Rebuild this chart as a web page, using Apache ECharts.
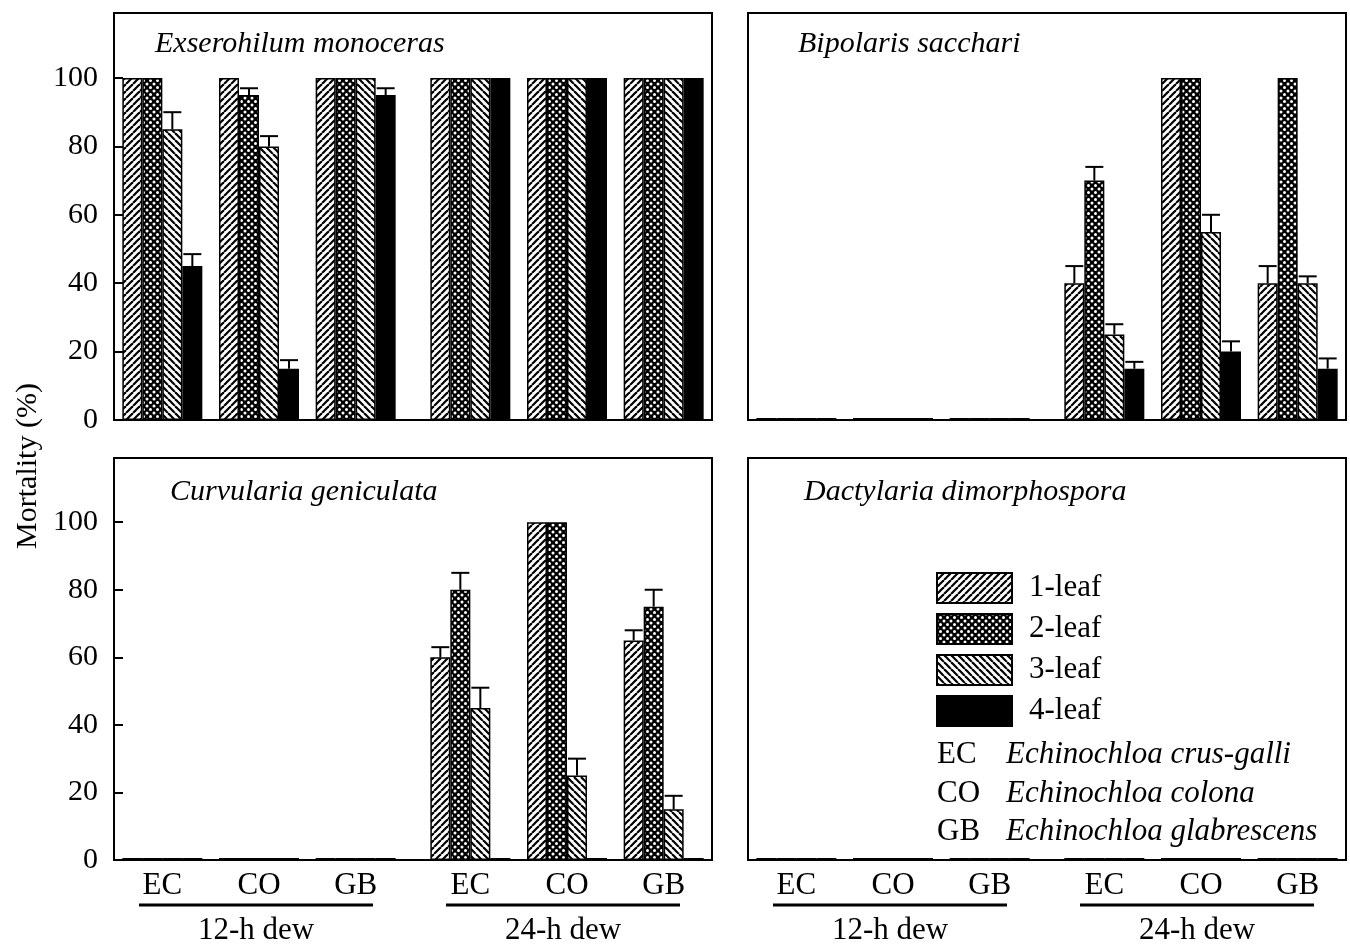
<!DOCTYPE html>
<html>
<head>
<meta charset="utf-8">
<script src="https://cdn.jsdelivr.net/npm/echarts@6/dist/echarts.min.js"></script>
<style>
  html, body { margin: 0; padding: 0; background: #fff; }
  #chart { width: 1350px; height: 945px; }
</style>
</head>
<body>
<div id="chart"></div>
<script>
const groups = ['EC', 'CO', 'GB'];
const dews = ['12-h dew', '24-h dew'];
const leaves = ['1-leaf', '2-leaf', '3-leaf', '4-leaf'];
const fungi = ['Exserohilum monoceras', 'Bipolaris sacchari', 'Curvularia geniculata', 'Dactylaria dimorphospora'];
const hosts = ['Echinochloa crus-galli', 'Echinochloa colona', 'Echinochloa glabrescens'];
const yTicks = [0, 20, 40, 60, 80, 100];

// mortality (%) : one row per leaf stage, columns = EC, CO, GB
const exser12 = [[100, 100, 100], [100, 95, 100], [85, 80, 100], [45, 15, 95]];
const exser12Err = [[0, 0, 0], [0, 2, 0], [5, 3, 0], [3.5, 2.5, 2]];
const exser24 = [[100, 100, 100], [100, 100, 100], [100, 100, 100], [100, 100, 100]];
const exser24Err = [[0, 0, 0], [0, 0, 0], [0, 0, 0], [0, 0, 0]];

const bipol12 = [[0, 0, 0], [0, 0, 0], [0, 0, 0], [0, 0, 0]];
const bipol12Err = [[0, 0, 0], [0, 0, 0], [0, 0, 0], [0, 0, 0]];
const bipol24 = [[40, 100, 40], [70, 100, 100], [25, 55, 40], [15, 20, 15]];
const bipol24Err = [[5, 0, 5], [4, 0, 0], [3, 5, 2], [2, 3, 3]];

const curvu12 = [[0, 0, 0], [0, 0, 0], [0, 0, 0], [0, 0, 0]];
const curvu12Err = [[0, 0, 0], [0, 0, 0], [0, 0, 0], [0, 0, 0]];
const curvu24 = [[60, 100, 65], [80, 100, 75], [45, 25, 15], [0, 0, 0]];
const curvu24Err = [[3, 0, 3], [5, 0, 5], [6, 5, 4], [0, 0, 0]];

const dacty12 = [[0, 0, 0], [0, 0, 0], [0, 0, 0], [0, 0, 0]];
const dacty12Err = [[0, 0, 0], [0, 0, 0], [0, 0, 0], [0, 0, 0]];
const dacty24 = [[0, 0, 0], [0, 0, 0], [0, 0, 0], [0, 0, 0]];
const dacty24Err = [[0, 0, 0], [0, 0, 0], [0, 0, 0], [0, 0, 0]];

const panelData = [
  [[exser12, exser12Err], [exser24, exser24Err]],
  [[bipol12, bipol12Err], [bipol24, bipol24Err]],
  [[curvu12, curvu12Err], [curvu24, curvu24Err]],
  [[dacty12, dacty12Err], [dacty24, dacty24Err]]
];

// layout
const FONT = 'Liberation Serif';
const BAR_W = 20;
const CAP = 9;
const panelLeft = [114, 748, 114, 748];
const panelTop = [13, 13, 458, 458];
const panelBottom = [420, 420, 860, 860];
const titleX = [155, 798, 170, 804];
const titleY = [44, 44, 492, 492];

// hatch fills
function makeTile(kind) {
  const s = 7;
  const c = document.createElement('canvas');
  c.width = s; c.height = s;
  const g = c.getContext('2d');
  g.fillStyle = kind === 'cross' ? '#000' : '#fff';
  g.fillRect(0, 0, s, s);
  if (kind === 'cross') {
    g.fillStyle = '#fff';
    [[0, 0], [s, 0], [0, s], [s, s], [s / 2, s / 2]].forEach(p => {
      g.beginPath(); g.arc(p[0], p[1], 1.5, 0, Math.PI * 2); g.fill();
    });
  } else {
    g.strokeStyle = '#000';
    g.lineWidth = 2.2;
    for (let k = -1; k <= 1; k++) {
      g.beginPath();
      if (kind === 'fwd') { g.moveTo(k * s, s); g.lineTo(k * s + s, 0); }
      else { g.moveTo(k * s, 0); g.lineTo(k * s + s, s); }
      g.stroke();
    }
  }
  return { image: c, repeat: 'repeat' };
}
const fills = [makeTile('fwd'), makeTile('cross'), makeTile('back'), '#000'];

const grids = [], xAxes = [], yAxes = [], series = [], graphics = [];

panelLeft.forEach((L, p) => {
  const T = panelTop[p], B = panelBottom[p], H = B - T;
  const isLeft = p % 2 === 0, isBottom = p >= 2;
  // frame
  grids.push({ left: L, top: T, width: 598, height: H, show: true, borderColor: '#000', borderWidth: 2, backgroundColor: 'transparent', z: 5 });
  xAxes.push({ gridIndex: grids.length - 1, type: 'value', show: false });
  yAxes.push({ gridIndex: grids.length - 1, type: 'value', show: false });

  dews.forEach((d, k) => {
    grids.push({ left: k === 0 ? L : L + 308, top: T, width: 290, height: H });
    const gi = grids.length - 1;
    xAxes.push({
      gridIndex: gi, type: 'category', data: groups,
      axisLine: { show: false }, axisTick: { show: false },
      axisLabel: { show: isBottom, color: '#000', fontFamily: FONT, fontSize: 31, margin: 10 }
    });
    const showY = isLeft && k === 0;
    yAxes.push({
      gridIndex: gi, type: 'value', min: 0, max: 119, interval: 20,
      axisLine: { show: false }, splitLine: { show: false },
      axisTick: { show: showY, inside: true, length: 9, lineStyle: { color: '#000', width: 2 } },
      axisLabel: { show: showY, showMaxLabel: false, color: '#000', fontFamily: FONT, fontSize: 30, margin: 16,
        formatter: v => (yTicks.indexOf(v) >= 0 ? String(v) : '') }
    });

    const vals = panelData[p][k][0], errs = panelData[p][k][1];
    leaves.forEach((lf, s) => {
      series.push({
        type: 'bar', name: lf, xAxisIndex: gi, yAxisIndex: gi,
        data: vals[s], barWidth: BAR_W, barGap: '0%', barMinHeight: 2, silent: true,
        itemStyle: { color: fills[s], borderColor: '#000', borderWidth: 1.5 }
      });
    });

    const errData = [];
    vals.forEach((row, s) => row.forEach((v, c) => {
      if (errs[s][c] > 0) errData.push([c, v, errs[s][c], s]);
    }));
    series.push({
      type: 'custom', xAxisIndex: gi, yAxisIndex: gi, z: 10, silent: true,
      encode: { x: 0, y: 1 }, data: errData,
      renderItem(params, api) {
        const base = api.coord([api.value(0), api.value(1)]);
        const top = api.coord([api.value(0), api.value(1) + api.value(2)]);
        const x = base[0] + (api.value(3) - 1.5) * BAR_W;
        const st = { stroke: '#000', lineWidth: 2 };
        return { type: 'group', children: [
          { type: 'line', shape: { x1: x, y1: base[1], x2: x, y2: top[1] }, style: st },
          { type: 'line', shape: { x1: x - CAP, y1: top[1], x2: x + CAP, y2: top[1] }, style: st }
        ] };
      }
    });

    if (isBottom) {
      const x0 = k === 0 ? L + 25 : L + 332;
      graphics.push({ type: 'line', shape: { x1: x0, y1: 905, x2: x0 + 234, y2: 905 }, style: { stroke: '#000', lineWidth: 3 } });
      graphics.push({ type: 'text', x: x0 + 117, y: 931, style: { text: d, fontFamily: FONT, fontSize: 31, fill: '#000', align: 'center', verticalAlign: 'middle' } });
    }
  });

  graphics.push({ type: 'text', x: titleX[p], y: titleY[p], z: 20, style: { text: fungi[p], fontFamily: FONT, fontStyle: 'italic', fontSize: 30, fill: '#000', verticalAlign: 'middle' } });
});

// host key under the legend
groups.forEach((g, i) => {
  graphics.push({ type: 'text', x: 937, y: 755 + i * 38.5, style: { text: g, fontFamily: FONT, fontSize: 31, fill: '#000', verticalAlign: 'middle' } });
  graphics.push({ type: 'text', x: 1006, y: 755 + i * 38.5, style: { text: hosts[i], fontFamily: FONT, fontStyle: 'italic', fontSize: 31, fill: '#000', verticalAlign: 'middle' } });
});

graphics.push({ type: 'text', x: 28, y: 466, rotation: Math.PI / 2, style: { text: 'Mortality (%)', fontFamily: FONT, fontSize: 30, fill: '#000', align: 'center', verticalAlign: 'middle' } });

const chart = echarts.init(document.getElementById('chart'));
chart.setOption({
  animation: false,
  backgroundColor: '#fff',
  grid: grids,
  xAxis: xAxes,
  yAxis: yAxes,
  legend: {
    data: leaves, orient: 'vertical', left: 936, top: 572, padding: 0,
    itemWidth: 75, itemHeight: 30, itemGap: 9, icon: 'rect', selectedMode: false,
    itemStyle: { borderColor: '#000', borderWidth: 2 },
    textStyle: { fontFamily: FONT, fontSize: 31, color: '#000', padding: [0, 0, 0, 12] }
  },
  graphic: graphics,
  series: series
});
</script>
</body>
</html>
